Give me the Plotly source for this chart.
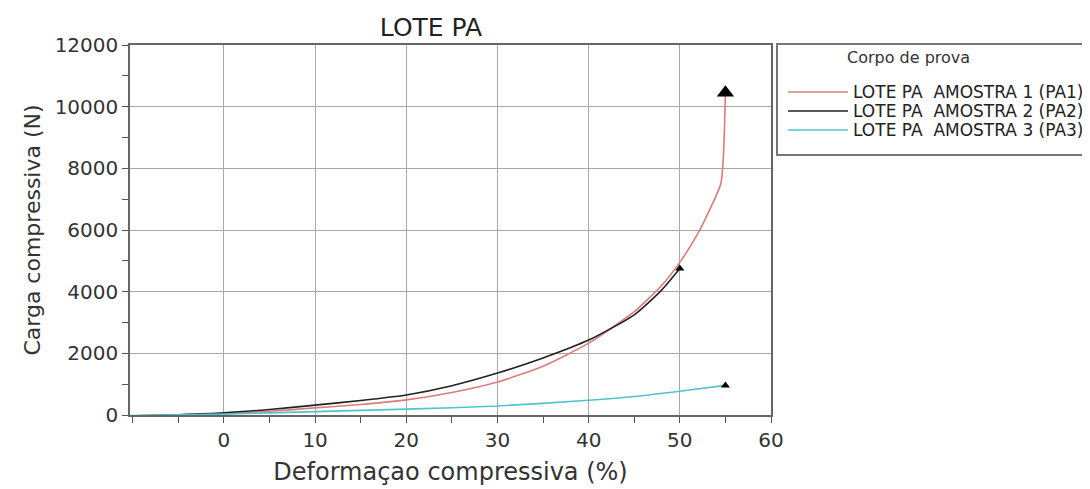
import plotly.graph_objects as go

# Data
pa1_x = [-10.3, -5, 0, 5, 10, 15, 20, 25, 30, 35, 40, 45, 48, 50, 52, 53.5, 54.5, 54.8, 55]
pa1_y = [-40, 0, 40, 120, 230, 340, 490, 730, 1070, 1580, 2330, 3350, 4200, 4950, 5900, 6800, 7500, 8500, 10450]
pa2_x = [-10.3, -5, 0, 5, 10, 15, 20, 25, 30, 35, 40, 45, 48, 50]
pa2_y = [-30, 10, 70, 180, 320, 470, 650, 950, 1360, 1850, 2430, 3250, 4050, 4750]
pa3_x = [-10.3, 0, 10, 20, 30, 40, 45, 50, 55]
pa3_y = [-20, 30, 110, 190, 290, 480, 600, 770, 960]

names = ["LOTE PA  AMOSTRA 1 (PA1)", "LOTE PA  AMOSTRA 2 (PA2)", "LOTE PA  AMOSTRA 3 (PA3)"]
colors = ["#dd7b7b", "#222222", "#4fc3cf"]
end_sizes = [15, 8, 8]

x_ticks = [0, 10, 20, 30, 40, 50, 60]
y_ticks = [0, 2000, 4000, 6000, 8000, 10000, 12000]
y_ticklabels = ["0", "2000", "4000", "6000", "8000", "10000", "12000"]

FONT = "DejaVu Sans"

# page has an 8px body margin; figure is sized so it ends at the window edge
OFF = 8
W, H = 1090 - OFF, 489 - OFF
PL, PR, PT, PB = 130, 771, 45, 415          # plot area in window pixels
ML, MR, MT, MB = PL - OFF, W - (PR - OFF), PT - OFF, H - (PB - OFF)
PW, PH = PR - PL, PB - PT

def px(xw):
    return (xw - PL) / PW

def py(yw):
    return (PB - yw) / PH

fig = go.Figure()
series = [(pa1_x, pa1_y), (pa2_x, pa2_y), (pa3_x, pa3_y)]
for (xs, ys), name, col in zip(series, names, colors):
    fig.add_trace(go.Scatter(x=xs, y=ys, mode="lines", name=name,
                             line=dict(color=col, width=1.6, shape="spline", smoothing=0.6)))
for (xs, ys), col, sz in zip(series, colors, end_sizes):
    fig.add_trace(go.Scatter(x=[xs[-1]], y=[ys[-1]], mode="markers", showlegend=False,
                             marker=dict(symbol="triangle-up", size=sz, color="black")))

axis_common = dict(showline=True, linecolor="#666", linewidth=1.5, mirror=True,
                   showgrid=True, gridcolor="#a8a8a8", gridwidth=1,
                   ticks="outside", ticklen=6, tickcolor="#555", zeroline=False,
                   tickfont=dict(family=FONT, size=20, color="#333"))

fig.update_xaxes(range=[-10.3, 60], tickvals=x_ticks,
                 minor=dict(dtick=5, tick0=0, ticks="outside", ticklen=6, tickcolor="#555", showgrid=False),
                 title=dict(text="Deformaçao compressiva (%)", font=dict(family=FONT, size=24, color="#333"), standoff=12),
                 **axis_common)
fig.update_yaxes(range=[0, 12000], tickvals=y_ticks, ticktext=y_ticklabels,
                 minor=dict(dtick=1000, tick0=0, ticks="outside", ticklen=6, tickcolor="#555", showgrid=False),
                 title=dict(text="Carga compressiva (N)", font=dict(family=FONT, size=22, color="#333"), standoff=8),
                 **axis_common)

# Legend drawn as a framed box beside the plot (as in the reference)
shapes = [dict(type="rect", xref="paper", yref="paper", x0=px(777), x1=px(1120), y0=py(155), y1=py(44),
               line=dict(color="#777", width=2), fillcolor="white", layer="below")]
annotations = [dict(text="Corpo de prova", xref="paper", yref="paper", x=px(845), y=py(57),
                    xanchor="left", yanchor="middle", showarrow=False,
                    font=dict(family=FONT, size=16, color="#333"))]
row_y = [92, 111, 130]
for name, col, ry in zip(names, colors, row_y):
    shapes.append(dict(type="line", xref="paper", yref="paper", x0=px(788), x1=px(848), y0=py(ry), y1=py(ry),
                       line=dict(color=col, width=1.6)))
    annotations.append(dict(text=name, xref="paper", yref="paper", x=px(851), y=py(ry),
                            xanchor="left", yanchor="middle", showarrow=False,
                            font=dict(family=FONT, size=17, color="#222")))

fig.update_layout(
    width=W, height=H,
    margin=dict(l=ML, r=MR, t=MT, b=MB, autoexpand=False),
    paper_bgcolor="white", plot_bgcolor="white",
    title=dict(text="LOTE PA", x=px(431), xref="paper", xanchor="center",
               y=1 - (27 - OFF) / H, yref="container", yanchor="middle",
               font=dict(family=FONT, size=25, color="#222")),
    showlegend=False,
    shapes=shapes,
    annotations=annotations,
)

fig.write_html("out.html")
